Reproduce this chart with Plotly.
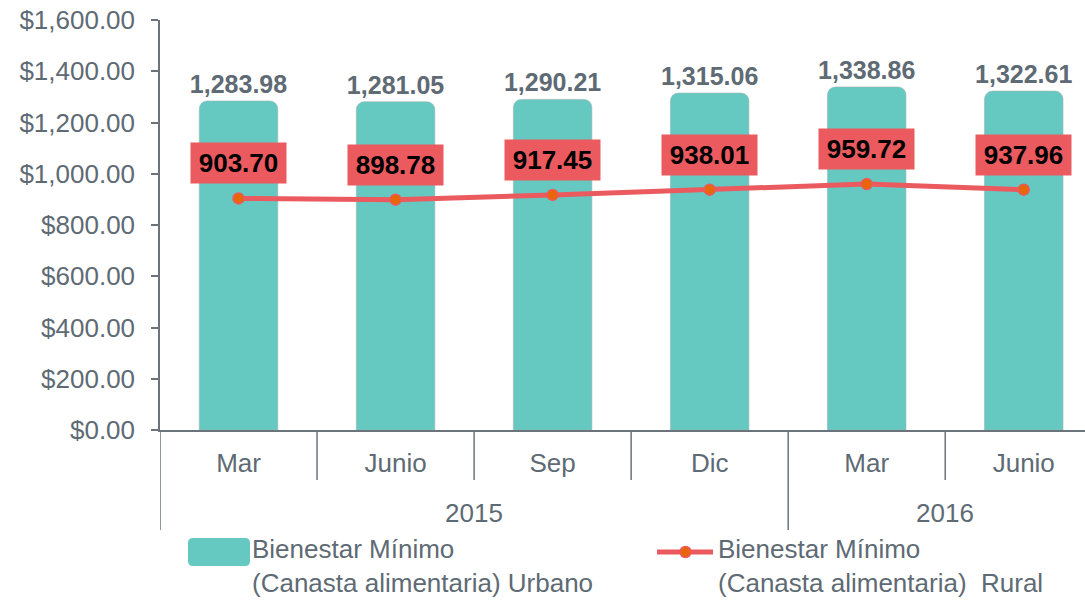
import plotly.graph_objects as go

years = ["2015", "2015", "2015", "2015", "2016", "2016"]
months = ["Mar", "Junio", "Sep", "Dic", "Mar", "Junio"]
urbano = [1283.98, 1281.05, 1290.21, 1315.06, 1338.86, 1322.61]
rural = [903.70, 898.78, 917.45, 938.01, 959.72, 937.96]
name_urbano = "Bienestar Mínimo<br>(Canasta alimentaria) Urbano"
name_rural = "Bienestar Mínimo<br>(Canasta alimentaria)  Rural"
y_ticks = [0, 200, 400, 600, 800, 1000, 1200, 1400, 1600]

FONT = "Liberation Sans, Arial, sans-serif"
GRAY = "#5E6A74"
AXIS = "#6B747C"
TEAL = "#65C9C2"
RED = "#EB5A5F"
ORANGE = "#E8650A"

W, H = 1085, 600
ML, MR, MT, MB = 160, 0, 20, 170
PW, PH = W - ML - MR, H - MT - MB


def px(xp):
    return (xp - ML) / PW


def py(yp):
    return (H - MB - yp) / PH


xs = list(range(len(months)))

fig = go.Figure()
fig.add_trace(go.Bar(
    x=xs, y=urbano, name=name_urbano, showlegend=False,
    marker=dict(color=TEAL, cornerradius=8, line=dict(color="#9FB5B3", width=0.6)),
    width=0.5,
    text=[f"{v:,.2f}" for v in urbano], textposition="outside",
    constraintext="none",
    textfont=dict(family=FONT, size=25, color=GRAY, weight="bold"),
    cliponaxis=False,
))
fig.add_trace(go.Scatter(
    x=xs, y=rural, name=name_rural, mode="lines+markers", showlegend=False,
    line=dict(color=RED, width=5),
    marker=dict(color=ORANGE, size=11, line=dict(color=RED, width=1.5)),
))

# line value labels
for i, v in enumerate(rural):
    fig.add_annotation(
        x=i, y=v, xref="x", yref="y",
        text=f"<b>{v:,.2f}</b>", showarrow=False,
        yshift=35, bgcolor=RED, borderpad=5, width=85, align="center",
        font=dict(family=FONT, size=26, color="#000000"),
    )

# category dividers (short) and group dividers (long)
shapes = []
for i in range(len(months)):
    b = i - 0.5
    is_group = (i == 0) or (years[i] != years[i - 1])
    depth = 100 if is_group else 50
    shapes.append(dict(type="line", xref="x", yref="paper",
                       x0=b, x1=b, y0=0, y1=-depth / PH,
                       line=dict(color=AXIS, width=1.5)))

# year labels centered on groups
groups = {}
for i, yv in enumerate(years):
    groups.setdefault(yv, []).append(i)
for yv, idx in groups.items():
    c = (min(idx) + max(idx)) / 2
    fig.add_annotation(x=c, y=-83 / PH, xref="x", yref="paper",
                       text=yv, showarrow=False, yanchor="middle",
                       font=dict(family=FONT, size=26, color=GRAY))

# manual legend
x0, x1, y0, y1, r = px(188), px(250), py(566), py(538), 5
rx, ry = r / PW, r / PH
shapes.append(dict(
    type="path", xref="paper", yref="paper",
    path=(f"M {x0+rx} {y0} L {x1-rx} {y0} Q {x1} {y0} {x1} {y0+ry} "
          f"L {x1} {y1-ry} Q {x1} {y1} {x1-rx} {y1} L {x0+rx} {y1} "
          f"Q {x0} {y1} {x0} {y1-ry} L {x0} {y0+ry} Q {x0} {y0} {x0+rx} {y0} Z"),
    fillcolor=TEAL, line=dict(width=0)))
shapes.append(dict(type="line", xref="paper", yref="paper",
                   x0=px(657), x1=px(713), y0=py(552), y1=py(552),
                   line=dict(color=RED, width=5)))
shapes.append(dict(type="circle", xref="paper", yref="paper",
                   x0=px(680), x1=px(691), y0=py(557.5), y1=py(546.5),
                   fillcolor=ORANGE, line=dict(color=RED, width=1.5)))
for xp, nm in [(250, name_urbano), (716, name_rural)]:
    fig.add_annotation(x=px(xp), y=py(532), xref="paper", yref="paper",
                       text=nm, showarrow=False, xanchor="left", yanchor="top",
                       align="left",
                       font=dict(family=FONT, size=26, color=GRAY))

fig.update_layout(
    width=W, height=H,
    margin=dict(l=ML, r=MR, t=MT, b=MB, autoexpand=False),
    plot_bgcolor="white", paper_bgcolor="white",
    font=dict(family=FONT, size=26, color=GRAY),
    showlegend=False,
    shapes=shapes,
    xaxis=dict(
        range=[-0.5, 5.39], tickmode="array", tickvals=xs, ticktext=months,
        showline=True, linecolor=AXIS, linewidth=1.5, ticks="",
        tickfont=dict(family=FONT, size=26, color=GRAY),
        ticklabelstandoff=9, showgrid=False, zeroline=False,
    ),
    yaxis=dict(
        range=[0, 1600], tickvals=y_ticks,
        tickformat="$,.2f", showline=True, linecolor=AXIS, linewidth=1.5,
        ticks="outside", ticklen=7, tickcolor=AXIS, tickwidth=1.5,
        showgrid=False, zeroline=False,
        tickfont=dict(family=FONT, size=26, color=GRAY),
        ticklabelstandoff=11,
    ),
)

fig.write_html("out.html", post_script="document.body.style.margin='0';",
               config={"displayModeBar": False})
